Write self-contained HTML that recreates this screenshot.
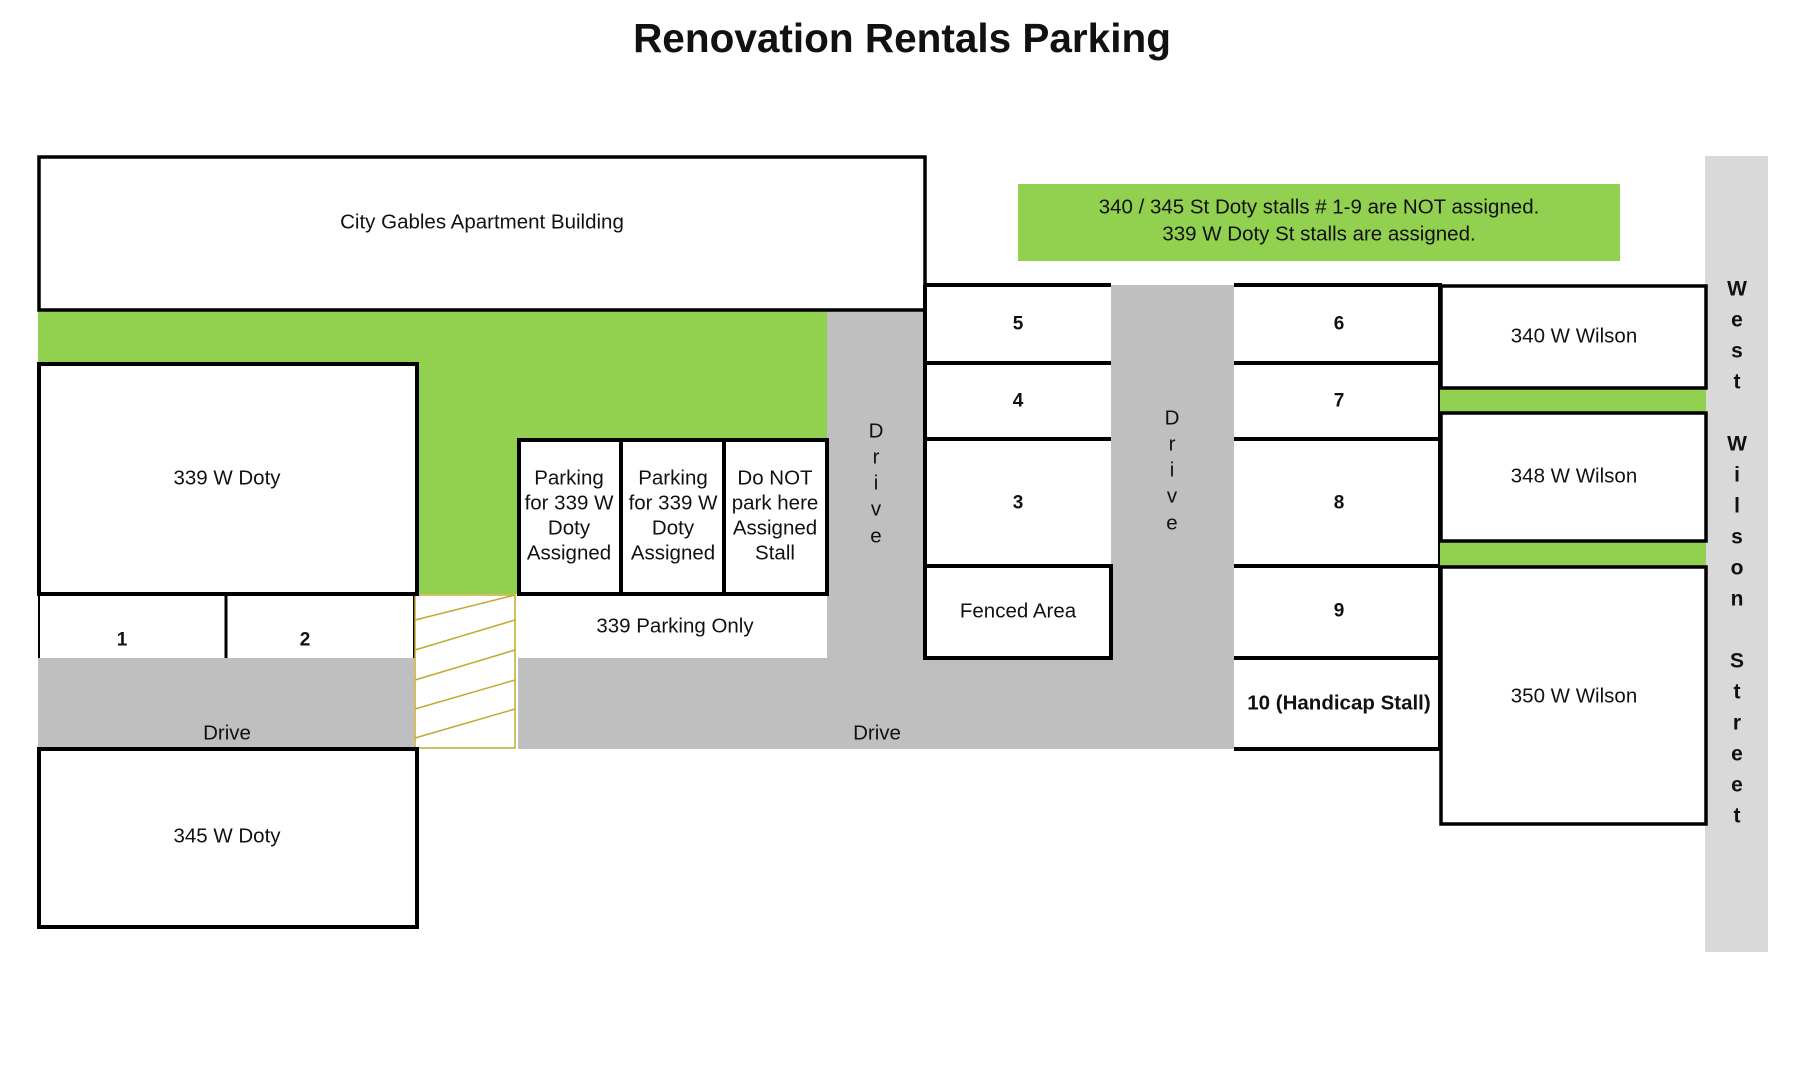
<!DOCTYPE html>
<html><head><meta charset="utf-8"><style>
html,body{margin:0;padding:0;background:#fff;}
svg{display:block;}
text{font-family:"Liberation Sans",Arial,sans-serif;dominant-baseline:central;text-anchor:middle;fill:#111;}
.l{font-size:20.5px;}
.b{font-size:19px;font-weight:bold;}
</style></head><body>
<svg width="1798" height="1080" viewBox="0 0 1798 1080" xmlns="http://www.w3.org/2000/svg">
<text x="902" y="38" style="font-size:40.5px;font-weight:bold;">Renovation Rentals Parking</text>

<rect x="1705" y="156" width="63" height="796" fill="#d9d9d9"/>
<rect x="1018" y="184" width="602" height="77" fill="#92d050"/>
<text class="l" x="1319" y="207">340 / 345 St Doty stalls # 1-9 are NOT assigned.</text>
<text class="l" x="1319" y="234">339 W Doty St stalls are assigned.</text>

<rect x="38" y="310" width="789" height="284" fill="#92d050"/>
<rect x="827" y="310" width="98" height="439" fill="#bfbfbf"/>
<rect x="1111" y="285" width="123" height="464" fill="#bfbfbf"/>
<rect x="518" y="658" width="716" height="91" fill="#bfbfbf"/>
<rect x="38" y="658" width="376" height="90" fill="#bfbfbf"/>
<rect x="518" y="594" width="309" height="64" fill="#fff"/>
<rect x="38" y="594" width="376" height="64" fill="#fff"/>
<line x1="39" y1="594" x2="39" y2="658" stroke="#000" stroke-width="2"/>
<line x1="226" y1="592" x2="226" y2="658" stroke="#000" stroke-width="3"/>
<line x1="414" y1="594" x2="414" y2="658" stroke="#000" stroke-width="2"/>
<rect x="415" y="595" width="100" height="153" fill="#fff" stroke="#c2aa2e" stroke-width="1.5"/>
<g stroke="#c2aa2e" stroke-width="1.5">
<line x1="415" y1="620" x2="515" y2="595"/>
<line x1="415" y1="650" x2="515" y2="620"/>
<line x1="415" y1="680" x2="515" y2="650"/>
<line x1="415" y1="709" x2="515" y2="680"/>
<line x1="415" y1="738" x2="515" y2="709"/>
</g>

<rect x="39" y="157" width="886" height="153" fill="#fff" stroke="#000" stroke-width="3.5"/>
<text class="l" x="482" y="222">City Gables Apartment Building</text>
<rect x="39" y="364" width="378" height="230" fill="#fff" stroke="#000" stroke-width="4"/>
<text class="l" x="227" y="478">339 W Doty</text>
<rect x="39" y="749" width="378" height="178" fill="#fff" stroke="#000" stroke-width="4"/>
<text class="l" x="227" y="836">345 W Doty</text>
<text class="b" x="122" y="640">1</text>
<text class="b" x="305" y="640">2</text>
<text class="l" x="227" y="733">Drive</text>
<text class="l" x="877" y="733">Drive</text>

<rect x="519" y="440" width="308" height="154" fill="#fff" stroke="#000" stroke-width="4"/>
<line x1="621" y1="440" x2="621" y2="594" stroke="#000" stroke-width="4"/>
<line x1="724" y1="440" x2="724" y2="594" stroke="#000" stroke-width="4"/>
<text class="l" x="569" y="478">Parking</text><text class="l" x="569" y="503">for 339 W</text><text class="l" x="569" y="528">Doty</text><text class="l" x="569" y="553">Assigned</text>
<text class="l" x="673" y="478">Parking</text><text class="l" x="673" y="503">for 339 W</text><text class="l" x="673" y="528">Doty</text><text class="l" x="673" y="553">Assigned</text>
<text class="l" x="775" y="478">Do NOT</text><text class="l" x="775" y="503">park here</text><text class="l" x="775" y="528">Assigned</text><text class="l" x="775" y="553">Stall</text>
<text class="l" x="675" y="626">339 Parking Only</text>

<text class="l" x="876" y="431">D</text><text class="l" x="876" y="457">r</text><text class="l" x="876" y="483">i</text><text class="l" x="876" y="509">v</text><text class="l" x="876" y="536">e</text>
<text class="l" x="1172" y="418">D</text><text class="l" x="1172" y="444">r</text><text class="l" x="1172" y="470">i</text><text class="l" x="1172" y="496">v</text><text class="l" x="1172" y="523">e</text>

<g stroke="#000" stroke-width="4" fill="none">
<line x1="925" y1="285" x2="925" y2="658"/>
<line x1="925" y1="285" x2="1111" y2="285"/>
<line x1="925" y1="363" x2="1111" y2="363"/>
<line x1="925" y1="439" x2="1111" y2="439"/>
<line x1="925" y1="566" x2="1111" y2="566"/>
</g>
<rect x="925" y="566" width="186" height="92" fill="#fff" stroke="#000" stroke-width="4"/>
<text class="b" x="1018" y="324">5</text>
<text class="b" x="1018" y="401">4</text>
<text class="b" x="1018" y="503">3</text>
<text class="l" x="1018" y="611">Fenced Area</text>

<g stroke="#000" stroke-width="4" fill="none">
<line x1="1234" y1="285" x2="1440" y2="285"/>
<line x1="1234" y1="363" x2="1440" y2="363"/>
<line x1="1234" y1="439" x2="1440" y2="439"/>
<line x1="1234" y1="566" x2="1440" y2="566"/>
<line x1="1234" y1="658" x2="1440" y2="658"/>
<line x1="1234" y1="749" x2="1440" y2="749"/>
<line x1="1440" y1="283" x2="1440" y2="751"/>
</g>
<text class="b" x="1339" y="324">6</text>
<text class="b" x="1339" y="401">7</text>
<text class="b" x="1339" y="503">8</text>
<text class="b" x="1339" y="611">9</text>
<text x="1339" y="703" style="font-size:20.5px;font-weight:bold;">10 (Handicap Stall)</text>

<rect x="1440" y="388" width="266" height="25" fill="#92d050"/>
<rect x="1440" y="541" width="266" height="26" fill="#92d050"/>
<g stroke="#000" stroke-width="3.5" fill="#fff">
<rect x="1441" y="286" width="265" height="102"/>
<rect x="1441" y="413" width="265" height="128"/>
<rect x="1441" y="567" width="265" height="257"/>
</g>
<text class="l" x="1574" y="336">340 W Wilson</text>
<text class="l" x="1574" y="476">348 W Wilson</text>
<text class="l" x="1574" y="696">350 W Wilson</text>

<g>
<text x="1737" y="289" style="font-size:21px;font-weight:bold;">W</text>
<text x="1737" y="320" style="font-size:21px;font-weight:bold;">e</text>
<text x="1737" y="351" style="font-size:21px;font-weight:bold;">s</text>
<text x="1737" y="382" style="font-size:21px;font-weight:bold;">t</text>
<text x="1737" y="444" style="font-size:21px;font-weight:bold;">W</text>
<text x="1737" y="475" style="font-size:21px;font-weight:bold;">i</text>
<text x="1737" y="506" style="font-size:21px;font-weight:bold;">l</text>
<text x="1737" y="537" style="font-size:21px;font-weight:bold;">s</text>
<text x="1737" y="568" style="font-size:21px;font-weight:bold;">o</text>
<text x="1737" y="599" style="font-size:21px;font-weight:bold;">n</text>
<text x="1737" y="661" style="font-size:21px;font-weight:bold;">S</text>
<text x="1737" y="692" style="font-size:21px;font-weight:bold;">t</text>
<text x="1737" y="723" style="font-size:21px;font-weight:bold;">r</text>
<text x="1737" y="754" style="font-size:21px;font-weight:bold;">e</text>
<text x="1737" y="785" style="font-size:21px;font-weight:bold;">e</text>
<text x="1737" y="816" style="font-size:21px;font-weight:bold;">t</text>
</g>
</svg>
</body></html>
